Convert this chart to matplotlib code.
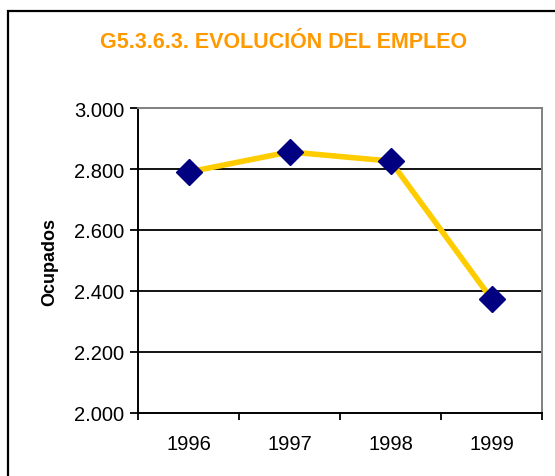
import matplotlib.pyplot as plt
from matplotlib.patches import Rectangle
from matplotlib.ticker import FuncFormatter

# ====== DATOS ======
anios = ["1996", "1997", "1998", "1999"]
ocupados = [2790, 2856, 2826, 2374]
y_ticks = [2000, 2200, 2400, 2600, 2800, 3000]

plt.rcParams["font.family"] = ["Liberation Sans", "DejaVu Sans"]

fig = plt.figure(figsize=(5.55, 4.77), dpi=100)
ax = fig.add_axes([138 / 555, 1 - 414 / 477, 404 / 555, 305 / 477])

# marco exterior
fig.patches.append(Rectangle((8 / 555, -0.1), 1.2, 1.1 - 12 / 477,
                             transform=fig.transFigure, fill=False,
                             edgecolor="black", linewidth=1.6, zorder=0))

x = range(len(anios))
ax.plot(x, ocupados, color="#FFCC00", linewidth=4.0, zorder=3)
ax.plot(x, ocupados, linestyle="none", marker="D", markersize=13,
        color="#000080", zorder=4)

ax.set_xlim(-0.5, len(anios) - 0.5)
ax.set_ylim(2000, 3000)
ax.set_yticks(y_ticks)
ax.yaxis.set_major_formatter(FuncFormatter(lambda v, p: f"{v/1000:.3f}"))
for y in y_ticks[1:-1]:
    ax.axhline(y, color="black", linewidth=1.3, zorder=1)

ax.set_xticks(list(x))
ax.set_xticklabels(anios)
ax.set_xticks([i - 0.5 for i in range(len(anios) + 1)], minor=True)
ax.tick_params(axis="x", which="major", length=0, pad=15, labelsize=14.5)
ax.tick_params(axis="x", which="minor", length=5, width=1.3, direction="out")
ax.tick_params(axis="y", length=6, width=1.3, direction="out", pad=4, labelsize=14.5)

for s in ["left", "bottom"]:
    ax.spines[s].set_linewidth(1.4)
    ax.spines[s].set_color("black")
for s in ["top", "right"]:
    ax.spines[s].set_linewidth(1.4)
    ax.spines[s].set_color("#808080")

ax.set_ylabel("Ocupados", fontsize=13, fontweight="bold", labelpad=11)

fig.text(284 / 555, 1 - 43 / 477, "G5.3.6.3. EVOLUCIÓN DEL EMPLEO",
         color="#FF9900", fontsize=15.5, fontweight="bold",
         ha="center", va="center")

fig.savefig("out.png", dpi=100)
